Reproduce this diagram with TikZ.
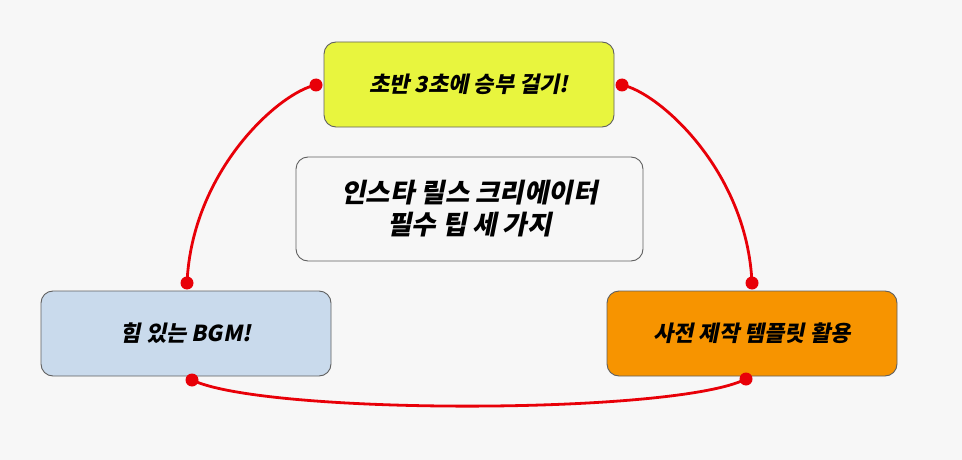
\documentclass[tikz,border=0pt]{standalone}
\usepackage{fontspec}
\newfontfamily\kr{Noto Sans CJK KR}[FakeSlant=0.2]
\definecolor{bg}{HTML}{F7F7F7}
\definecolor{ylw}{HTML}{E8F53E}
\definecolor{lblue}{HTML}{C9DAEC}
\definecolor{orng}{HTML}{F79400}
\definecolor{edge}{HTML}{606060}
\definecolor{lnk}{HTML}{E80008}
\tikzset{
  box/.style={draw=edge, line width=0.9pt, rounded corners=12pt, inner sep=0pt, align=center,
    font=\kr\bfseries\fontsize{22}{26}\selectfont},
  link/.style={draw=lnk, line width=2.8pt},
  dot/.style={fill=lnk},
}
\begin{document}
\begin{tikzpicture}[x=1pt,y=-1pt]
\fill[bg] (0,0) rectangle (962,460);
\useasboundingbox (0,0) rectangle (962,460);
\node[box, fill=ylw, minimum width=290pt, minimum height=85pt] (top) at (469,84.5) {초반 3초에 승부 걸기!};
\node[box, fill=bg, minimum width=347pt, minimum height=104pt, font=\kr\bfseries\fontsize{26.5}{32}\selectfont] (title) at (469.5,209) {인스타 릴스 크리에이터\\필수 팁 세 가지};
\node[box, fill=lblue, minimum width=290pt, minimum height=85pt] (left) at (186,333.5) {힘 있는 BGM!};
\node[box, fill=orng, minimum width=290pt, minimum height=85pt] (right) at (752,333.5) {사전 제작 템플릿 활용};
\coordinate (tl) at (316,85);
\coordinate (tr) at (622,85);
\coordinate (lt) at (187,283);
\coordinate (lb) at (192,380);
\coordinate (rt) at (752,283);
\coordinate (rb) at (746,379);
\draw[link] (tl) .. controls (280,92) and (192,170) .. (lt);
\draw[link] (tr) .. controls (658,92) and (747,170) .. (rt);
\draw[link] (lb) .. controls (265,415) and (675,415) .. (rb);
\foreach \p in {tl,tr,lt,lb,rt,rb} \fill[dot] (\p) circle (6.5pt);
\end{tikzpicture}
\end{document}
